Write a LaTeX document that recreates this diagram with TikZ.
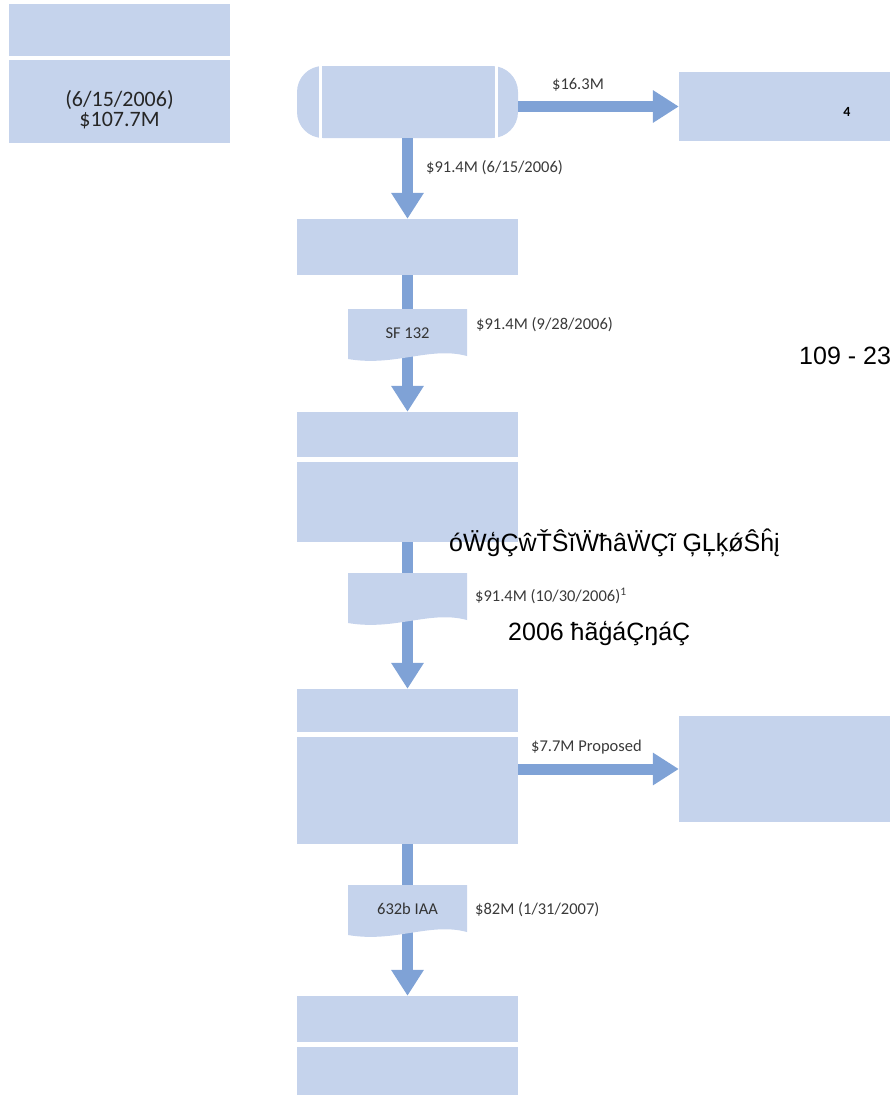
\documentclass[tikz,border=0pt]{standalone}
\usepackage{fontspec}
\setmainfont{Carlito}
\newfontfamily\arialfont{Liberation Sans}
\usetikzlibrary{arrows.meta}
\definecolor{boxblue}{HTML}{C5D3EC}
\definecolor{flowblue}{HTML}{7FA2D6}
\definecolor{labelgray}{HTML}{3A3A3A}
\begin{document}
\begin{tikzpicture}[x=1pt,y=-1pt,
  blk/.style={fill=boxblue,inner sep=0pt,minimum width=221pt},
  flow/.style={draw=flowblue,line width=11pt,-{Triangle[width=31pt,length=26pt]}},
  lbl/.style={text=labelgray,font=\fontsize{16.5}{17}\selectfont,inner sep=0pt},
  garble/.style={font=\arialfont\fontsize{25}{25}\selectfont,inner sep=0pt,anchor=base west}]
\useasboundingbox (0,0) rectangle (890,1095);
\node[blk,minimum height=52pt] (la) at (119.5,30) {};
\node[blk,minimum height=83pt] (lb) at (119.5,101.5) {};
\node[align=center,inner sep=0pt,text=black!85,font=\fontsize{22}{20}\selectfont] (lbtxt) at (119.5,110) {(6/15/2006)\\\$107.7M};
\node[blk,minimum height=72pt,rounded corners=26pt] (start) at (407.5,102) {};
\foreach \xx in {320,496}{\draw[white,line width=3pt] (\xx,66) -- (\xx,138);}
\node[blk,minimum height=69pt] (r1) at (789.5,106.5) {};
\node[font=\bfseries\fontsize{14}{14}\selectfont] (note) at (847,112) {4};
\node[blk,minimum height=56pt] (b2) at (407.5,247) {};
\node[blk,minimum height=45pt] (b3a) at (407.5,434.5) {};
\node[blk,minimum height=80pt] (b3b) at (407.5,502) {};
\node[blk,minimum height=43pt] (b4a) at (407.5,710.5) {};
\node[blk,minimum height=107pt] (b4b) at (407.5,790.5) {};
\node[blk,minimum height=106pt] (r2) at (789.5,769) {};
\node[blk,minimum height=46pt] (b5a) at (407.5,1019) {};
\node[blk,minimum height=48pt] (b5b) at (407.5,1071) {};
\draw[flow] (start.south) -- (b2.north);
\draw[flow] (b2.south) -- (b3a.north);
\draw[flow] (b3b.south) -- (b4a.north);
\draw[flow] (b4b.south) -- (b5a.north);
\draw[flow] (start.east |- r1.west) -- (r1.west);
\draw[flow] (b4b.east |- r2.west) -- (r2.west);
\foreach \n/\t/\txt in {A/309/SF 132,B/573/,C/885/632b IAA}{
  \fill[boxblue] (348,\t) -- (467,\t) -- (467,\t+47) .. controls (430,\t+37) and (395,\t+58) .. (348,\t+50) -- cycle;
  \node[lbl,text=black!80] (doc\n) at (407.5,\t+24) {\txt};
}
\node[lbl] (l0) at (578,85) {\$16.3M};
\node[lbl,anchor=west] (l1) at (426,168) {\$91.4M (6/15/2006)};
\node[lbl,anchor=west] (l2) at (476,325) {\$91.4M (9/28/2006)};
\node[lbl,anchor=west] (l3) at (475,596) {\$91.4M (10/30/2006)\textsuperscript{1}};
\node[lbl,anchor=west] (l4) at (531,747) {\$7.7M Proposed};
\node[lbl,anchor=west] (l5) at (475,910) {\$82M (1/31/2007)};
\node[garble] (pg) at (799,364) {109 - 23};
\node[garble] (g1) at (449,551) {óẄģÇŵŤŜĭẄħâẄÇĩ ĢĻķǿŜĥį};
\node[garble] (g2) at (508,640) {2006 ħãģáÇŋáÇ};
\end{tikzpicture}
\end{document}
